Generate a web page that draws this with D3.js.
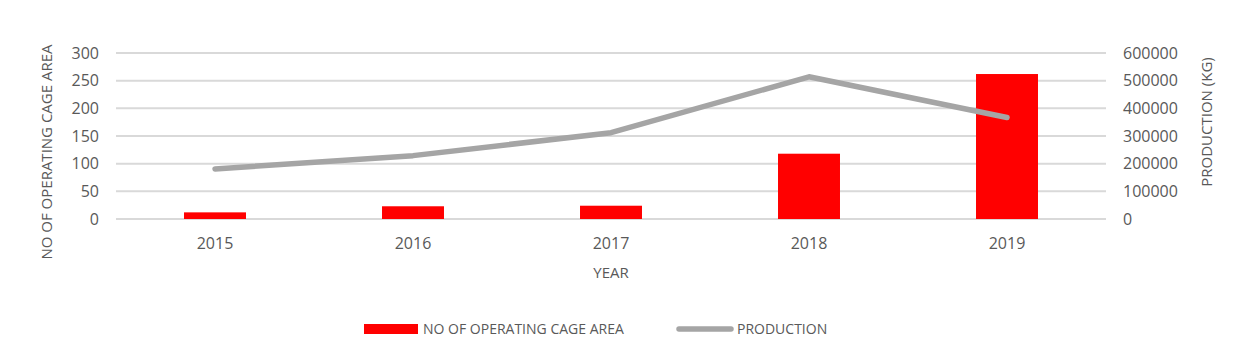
<!DOCTYPE html>
<html>
<head>
<meta charset="utf-8">
<script src="https://cdn.jsdelivr.net/npm/d3@7"></script>
<style>
  body { margin: 0; background: #fff; }
  svg text { font-family: "Open Sans", sans-serif; fill: #595959; }
</style>
</head>
<body>
<div id="chart"></div>
<script>
const YEARS = ['2015', '2016', '2017', '2018', '2019'];
const CAGE_AREA = [12, 23, 24, 118, 262];
const PRODUCTION = [181000, 229000, 312000, 514000, 367000];
const LEFT_TICKS = [0, 50, 100, 150, 200, 250, 300];
const RIGHT_TICKS = [0, 100000, 200000, 300000, 400000, 500000, 600000];

const BAR_COLOR = '#ff0000';
const LINE_COLOR = '#a5a5a5';

const w = 1247, h = 351;
const m = { top: 53, right: 141, bottom: 132, left: 116 };
const iw = w - m.left - m.right;
const ih = h - m.top - m.bottom;

const svg = d3.select('#chart').append('svg')
  .attr('width', w).attr('height', h);

const g = svg.append('g').attr('transform', `translate(${m.left},${m.top})`);

const x = d3.scaleBand().domain(YEARS).range([0, iw]);
const barW = x.bandwidth() * 0.313;

const yL = d3.scaleLinear().domain([0, 300]).range([ih, 0]);
const yR = d3.scaleLinear().domain([0, 600000]).range([ih, 0]);

// gridlines
g.selectAll('line.grid')
  .data(LEFT_TICKS)
  .join('line')
  .attr('class', 'grid')
  .attr('x1', 0).attr('x2', iw)
  .attr('y1', d => yL(d)).attr('y2', d => yL(d))
  .attr('stroke', '#d9d9d9')
  .attr('stroke-width', 2);

// left axis labels
g.selectAll('text.yl')
  .data(LEFT_TICKS)
  .join('text')
  .attr('class', 'yl')
  .attr('x', -17)
  .attr('y', d => yL(d))
  .attr('dy', '0.35em')
  .attr('text-anchor', 'end')
  .attr('font-size', '16px')
  .text(d => d);

// right axis labels
g.selectAll('text.yr')
  .data(RIGHT_TICKS)
  .join('text')
  .attr('class', 'yr')
  .attr('x', iw + 17)
  .attr('y', d => yR(d))
  .attr('dy', '0.35em')
  .attr('text-anchor', 'start')
  .attr('font-size', '16px')
  .text(d => d);

// x labels
g.selectAll('text.xl')
  .data(YEARS)
  .join('text')
  .attr('class', 'xl')
  .attr('x', d => x(d) + x.bandwidth() / 2)
  .attr('y', ih + 24)
  .attr('dy', '0.35em')
  .attr('text-anchor', 'middle')
  .attr('font-size', '16px')
  .text(d => d);

// bars
g.selectAll('rect.bar')
  .data(YEARS)
  .join('rect')
  .attr('class', 'bar')
  .attr('x', d => x(d) + x.bandwidth() / 2 - barW / 2)
  .attr('width', barW)
  .attr('y', (d, i) => yL(CAGE_AREA[i]))
  .attr('height', (d, i) => ih - yL(CAGE_AREA[i]))
  .attr('fill', BAR_COLOR);

// production line
const line = d3.line()
  .x((d, i) => x(YEARS[i]) + x.bandwidth() / 2)
  .y(d => yR(d));

g.append('path')
  .datum(PRODUCTION)
  .attr('fill', 'none')
  .attr('stroke', LINE_COLOR)
  .attr('stroke-width', 5.5)
  .attr('stroke-linecap', 'round')
  .attr('stroke-linejoin', 'round')
  .attr('d', line);

// axis titles
svg.append('text')
  .attr('transform', 'translate(47,152) rotate(-90)')
  .attr('dy', '0.35em')
  .attr('text-anchor', 'middle')
  .attr('font-size', '15px')
  .text('NO OF OPERATING CAGE AREA');

svg.append('text')
  .attr('transform', 'translate(1207,122) rotate(-90)')
  .attr('dy', '0.35em')
  .attr('text-anchor', 'middle')
  .attr('font-size', '15px')
  .text('PRODUCTION (KG)');

svg.append('text')
  .attr('x', m.left + iw / 2)
  .attr('y', 273)
  .attr('dy', '0.35em')
  .attr('text-anchor', 'middle')
  .attr('font-size', '15px')
  .text('YEAR');

// legend
const lg = svg.append('g').attr('transform', 'translate(0,329)');
lg.append('rect')
  .attr('x', 364).attr('y', -5)
  .attr('width', 54).attr('height', 10)
  .attr('fill', BAR_COLOR);
lg.append('text')
  .attr('x', 423).attr('dy', '0.35em')
  .attr('font-size', '14px')
  .text('NO OF OPERATING CAGE AREA');
lg.append('line')
  .attr('x1', 679).attr('x2', 731)
  .attr('stroke', LINE_COLOR)
  .attr('stroke-width', 5.5)
  .attr('stroke-linecap', 'round');
lg.append('text')
  .attr('x', 737).attr('dy', '0.35em')
  .attr('font-size', '14px')
  .text('PRODUCTION');
</script>
</body>
</html>
